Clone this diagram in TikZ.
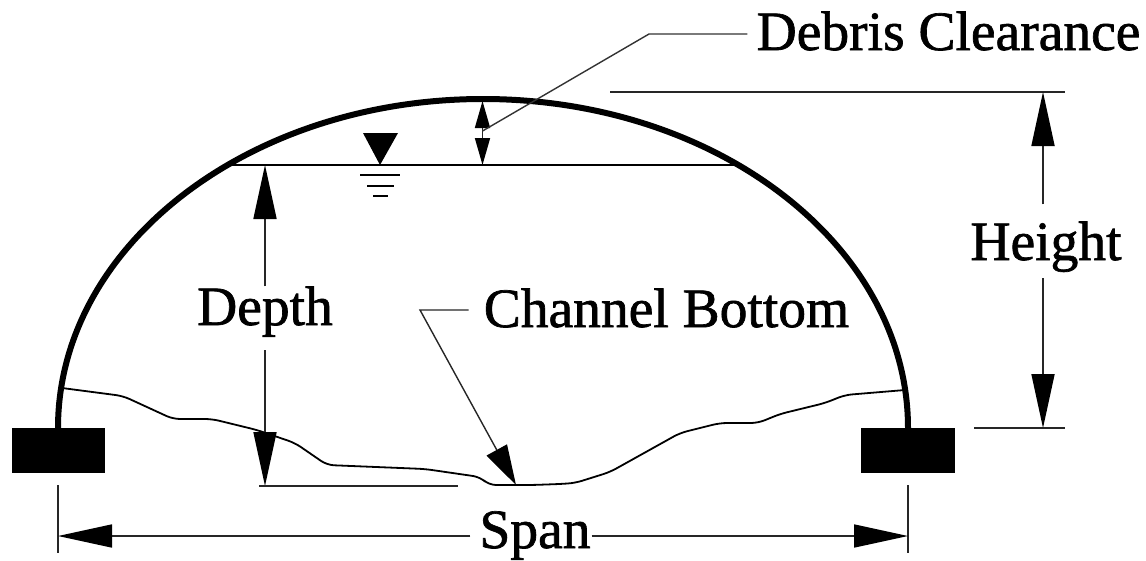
\documentclass[tikz,border=0pt]{standalone}
\usepackage{fontspec}
\setmainfont{Liberation Serif}
\newfontfamily\labfont[FakeBold=1.2]{Liberation Serif}
\usetikzlibrary{arrows.meta}
\tikzset{
  lab/.style={font=\fontsize{55.5}{55.5}\selectfont\labfont, inner sep=0pt, anchor=base, text=black},
  thin line/.style={line width=1.7pt, draw=black!85},
  arch/.style={line width=6pt, draw=black},
  ground/.style={line width=1.8pt, draw=black, line join=round, rounded corners=7pt},
  big/.style={thin line, -{Triangle[length=54pt,width=23pt,color=black]}},
  smallhead/.style={thin line, -{Triangle[length=27pt,width=15pt,color=black]}},
  chanhead/.style={line width=1.4pt, draw=black!85, -{Triangle[length=40pt,width=23pt,color=black]}},
}
\begin{document}
\begin{tikzpicture}[x=1pt,y=-1pt]
\useasboundingbox (0,0) rectangle (1146,560);
% footings
\fill[black] (12,428) rectangle (105,473);
\fill[black] (861,428) rectangle (955,473);
% arch
\coordinate (archL) at (58,428);
\draw[arch] (archL) arc[start angle=180,end angle=360,x radius=425,y radius=329];
% channel bottom profile
\draw[ground] (62,388) -- (123,396) -- (173,419) -- (212,419) -- (257,430) -- (295,443) -- (327,465) -- (425,469) -- (480,477) -- (489,485) -- (532,485) -- (560,484) -- (575,483) -- (610,472) -- (680,433) -- (720,423) -- (758,423) -- (780,414) -- (825,403) -- (845,395) -- (905,390);
% water surface
\coordinate (wL) at (232,165);
\coordinate (wR) at (735,165);
\draw[line width=1.9pt,draw=black] (wL) -- (wR);
\fill[black] (363,133) -- (398,133) -- (380,165) -- cycle;
\draw[line width=2pt] (360,175) -- (400,175);
\draw[line width=2pt] (367,186) -- (394,186);
\draw[line width=2pt] (373,196) -- (388,196);
% labels
\node[lab] (debris) at (948.5,50) {Debris Clearance};
\node[lab] (height) at (1046,260) {Height};
\node[lab] (depth) at (265,325) {Depth};
\node[lab] (channel) at (666.5,327) {Channel Bottom};
\node[lab] (span) at (535,548) {Span};
% debris clearance
\coordinate (dcTop) at (482.5,101);
\coordinate (dcBot) at (482.5,165);
\coordinate (dcMid) at (482.5,131);
\coordinate (dcBend) at (649,34);
\draw[smallhead] (dcMid) -- (dcTop);
\draw[smallhead] (dcMid) -- (dcBot);
\draw[line width=1.4pt,draw=black!80] (debris.west |- dcBend) ++(-9,0) -- (dcBend) -- (dcMid);
% depth
\coordinate (dTop) at (265,165);
\coordinate (dBot) at (265,486);
\coordinate (dBotL) at (259,486);
\coordinate (dBotR) at (458,486);
\draw[big] (depth.north -| dTop) -- (dTop);
\draw[big] (depth.south -| dBot) ++(0,13) -- (dBot);
\draw[thin line] (dBotL) -- (dBotR);
% channel bottom leader
\coordinate (cBend) at (420,310);
\coordinate (cTip) at (516,485);
\draw[chanhead] (channel.west |- cBend) ++(-15,0) -- (cBend) -- (cTip);
% height
\coordinate (hTop) at (1043,92);
\coordinate (hBot) at (1043,428);
\coordinate (hTopL) at (610,92);
\coordinate (hTopR) at (1065,92);
\coordinate (hBotL) at (974,428);
\coordinate (hBotR) at (1065,428);
\draw[thin line] (hTopL) -- (hTopR);
\draw[thin line] (hBotL) -- (hBotR);
\draw[big] (height.north -| hTop) ++(0,-17) -- (hTop);
\draw[big] (height.south -| hBot) ++(0,6) -- (hBot);
% span
\coordinate (sL) at (58,536);
\coordinate (sR) at (908,536);
\coordinate (sLt) at (58,485);
\coordinate (sLb) at (58,553);
\coordinate (sRt) at (908,485);
\coordinate (sRb) at (908,553);
\draw[thin line] (sLt) -- (sLb);
\draw[thin line] (sRt) -- (sRb);
\draw[big] (span.west |- sL) ++(-9,0) -- (sL);
\draw[big] (span.east |- sR) ++(1,0) -- (sR);
\end{tikzpicture}
\end{document}
